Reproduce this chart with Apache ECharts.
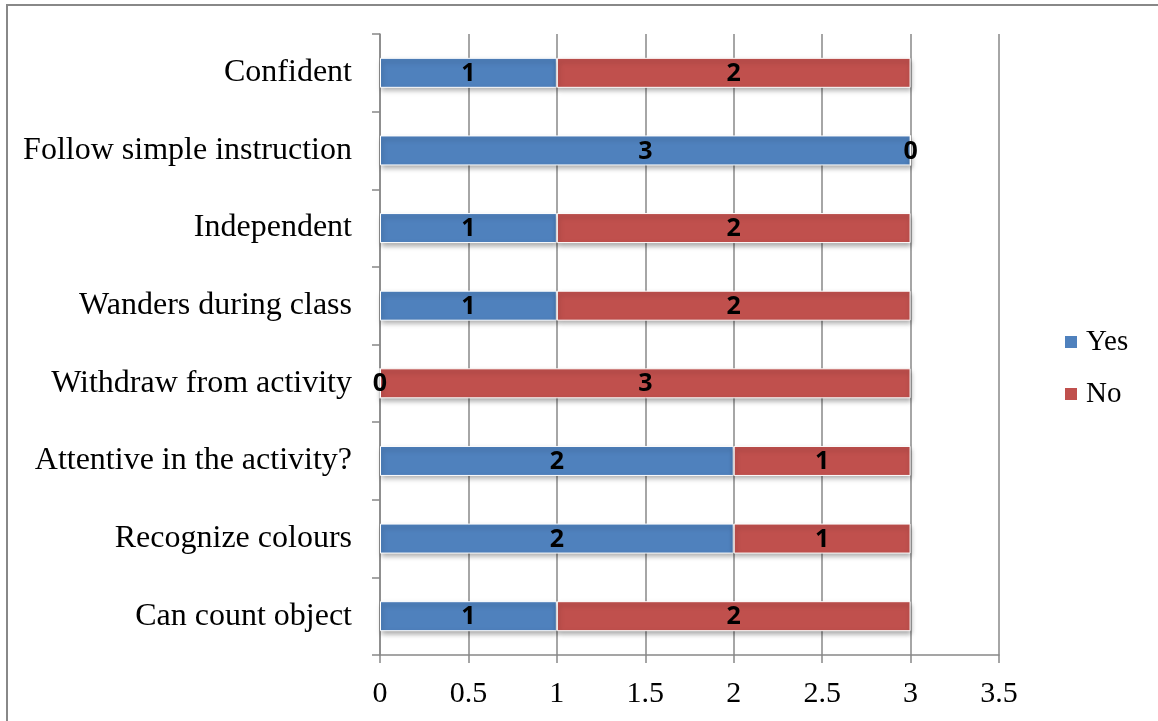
<!DOCTYPE html>
<html>
<head>
<meta charset="utf-8">
<script src="https://cdn.jsdelivr.net/npm/echarts@6/dist/echarts.min.js"></script>
<style>
  html, body { margin: 0; padding: 0; background: #fff; }
  #frame { position: absolute; left: 6px; top: 4px; width: 1200px; height: 800px;
           border-left: 2px solid #888; border-top: 2px solid #888; box-sizing: border-box; }
  #chart { position: absolute; left: 0; top: 0; width: 1158px; height: 721px; }
</style>
</head>
<body>
<div id="frame"></div>
<div id="chart"></div>
<script>
// Survey items, listed bottom to top as they appear on the vertical axis
const categories = [
  'Can count object',
  'Recognize colours',
  'Attentive in the activity?',
  'Withdraw from activity',
  'Wanders during class',
  'Independent',
  'Follow simple instruction',
  'Confident'
];
const yesValues = [1, 2, 2, 0, 1, 1, 3, 1];
const noValues  = [2, 1, 1, 3, 2, 2, 0, 2];
const seriesNames = ['Yes', 'No'];

const serif = '"Liberation Serif", "Times New Roman", serif';
const gridGray = '#888888';

const barStyle = (color) => ({
  color: color,
  borderColor: '#ffffff',
  borderWidth: 1,
  shadowColor: 'rgba(0,0,0,0.35)',
  shadowBlur: 5,
  shadowOffsetX: 1,
  shadowOffsetY: 3
});

const valueLabel = {
  show: true,
  position: 'inside',
  offset: [0, 1],
  color: '#000',
  fontFamily: '"Open Sans", "DejaVu Sans", sans-serif',
  fontWeight: 'bold',
  fontSize: 25
};

const chart = echarts.init(document.getElementById('chart'), null, { renderer: 'canvas' });
chart.setOption({
  animation: false,
  backgroundColor: 'transparent',
  grid: { left: 380, right: 159, top: 34, bottom: 66, containLabel: false },
  legend: {
    orient: 'vertical',
    left: 1063,
    top: 327,
    padding: 0,
    itemWidth: 14,
    itemHeight: 14,
    itemGap: 22,
    icon: 'rect',
    data: seriesNames,
    textStyle: { fontFamily: serif, fontSize: 29, color: '#000', lineHeight: 30, padding: [0, 0, 0, 3] }
  },
  xAxis: {
    type: 'value',
    min: 0,
    max: 3.5,
    interval: 0.5,
    axisLine: { show: true, lineStyle: { color: gridGray, width: 1.5 } },
    axisTick: { show: true, length: 8, lineStyle: { color: gridGray, width: 1.5 } },
    splitLine: { show: true, lineStyle: { color: gridGray, width: 1.5 } },
    axisLabel: { fontFamily: serif, fontSize: 30, color: '#000', margin: 24 }
  },
  yAxis: {
    type: 'category',
    data: categories,
    axisLine: { show: true, lineStyle: { color: gridGray, width: 1.5 } },
    axisTick: { show: true, length: 8, inside: false, lineStyle: { color: gridGray, width: 1.5 } },
    axisLabel: { fontFamily: serif, fontSize: 32, color: '#000', margin: 28, padding: [4, 0, 0, 0] }
  },
  series: [
    {
      name: seriesNames[0],
      type: 'bar',
      stack: 'total',
      barWidth: 30,
      data: yesValues,
      itemStyle: barStyle('#4F81BD'),
      label: valueLabel
    },
    {
      name: seriesNames[1],
      type: 'bar',
      stack: 'total',
      barWidth: 30,
      data: noValues,
      itemStyle: barStyle('#C0504D'),
      label: valueLabel
    }
  ]
});
</script>
</body>
</html>
